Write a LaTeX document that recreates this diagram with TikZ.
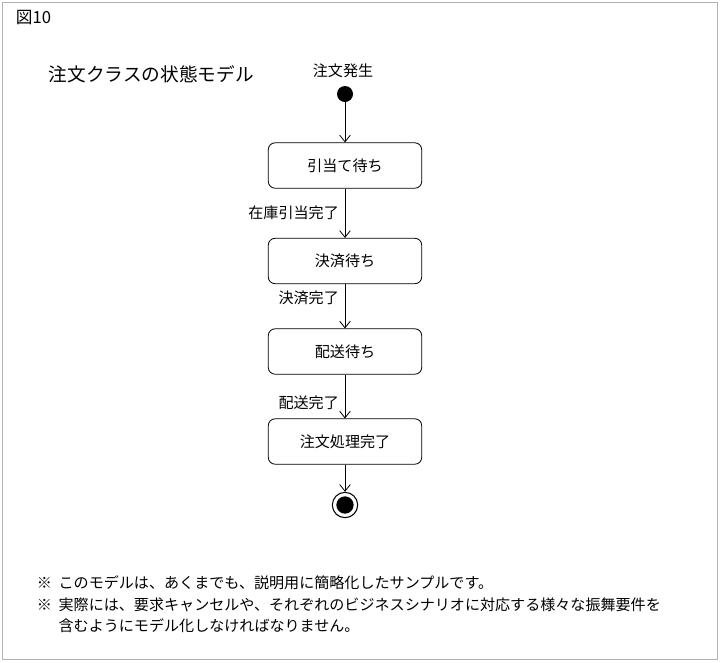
\documentclass[tikz,border=0pt]{standalone}
\usepackage{fontspec}
\newfontfamily\cjk{Noto Sans CJK JP}
\usetikzlibrary{arrows.meta,positioning}

\begin{document}
\begin{tikzpicture}[x=0.75pt,y=-0.75pt,>={Straight Barb[length=5pt,width=8pt]},semithick,
  every node/.style={font=\cjk\fontsize{11.3}{13}\selectfont},
  state/.style={draw,rounded corners=5pt,minimum width=115pt,minimum height=34pt,inner sep=0pt}]
  \useasboundingbox (0,0) rectangle (720,662);
  \draw[gray!60,thin] (2,2) rectangle (717,659);
  \node[anchor=west,font=\cjk\fontsize{12.5}{14}\selectfont] (fig) at (11,18) {図10};
  \node[anchor=west,font=\cjk\fontsize{14}{16}\selectfont] (title) at (44,74) {注文クラスの状態モデル};
  \node[circle,fill,minimum size=12pt,inner sep=0pt] (start) at (345,94) {};
  \node (ev) at (343,71) {注文発生};
  \node[state] (wait) at (345,165.5) {引当て待ち};
  \node[state] (pay) at (345,261) {決済待ち};
  \node[state] (ship) at (345,351.5) {配送待ち};
  \node[state] (done) at (345,441.5) {注文処理完了};
  \node[circle,draw,thick,minimum size=19pt,inner sep=0pt] (end) at (345,505) {};
  \node[circle,fill,minimum size=13pt,inner sep=0pt] at (end) {};
  \draw[->] (start) -- (wait);
  \draw[->] (wait) -- (pay) node[pos=0.5,left=1pt] {在庫引当完了};
  \draw[->] (pay) -- (ship) node[pos=0.3,left=1pt] {決済完了};
  \draw[->] (ship) -- (done) node[pos=0.65,left=1pt] {配送完了};
  \draw[->] (done) -- (end);
  \node[anchor=west] (n1) at (32,583) {※\ \ このモデルは、あくまでも、説明用に簡略化したサンプルです。};
  \node[anchor=west] (n2) at (32,605) {※\ \ 実際には、要求キャンセルや、それぞれのビジネスシナリオに対応する様々な振舞要件を};
  \node[anchor=west] (n3) at (32,626) {\phantom{※}\ \ 含むようにモデル化しなければなりません。};
\end{tikzpicture}
\end{document}
